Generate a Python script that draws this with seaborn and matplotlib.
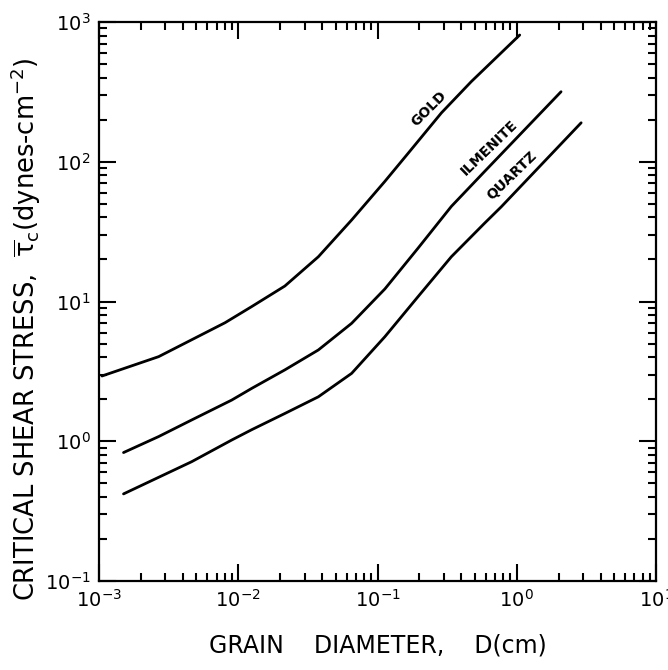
import numpy as np
import pandas as pd
import seaborn as sns
import matplotlib.pyplot as plt
import matplotlib.ticker as tkr

# grain diameter D (cm) and critical shear stress (dynes/cm^2)
gold_d = [0.00105, 0.00268, 0.00804, 0.0125, 0.0216, 0.0376, 0.0652, 0.113, 0.166, 0.288, 0.472, 1.05]
gold_tau = [2.93, 4.03, 7.05, 9.2, 12.9, 20.9, 38.3, 72.4, 115, 224, 375, 807]

ilmenite_d = [0.0015, 0.00268, 0.00463, 0.00897, 0.0125, 0.0216, 0.0376, 0.0652, 0.113, 0.195, 0.339, 0.587, 2.08]
ilmenite_tau = [0.83, 1.08, 1.42, 1.97, 2.39, 3.24, 4.50, 6.98, 12.3, 24.0, 47.9, 85.1, 317]

quartz_d = [0.0015, 0.00268, 0.00463, 0.00897, 0.0125, 0.0216, 0.0376, 0.0652, 0.113, 0.195, 0.339, 0.587, 0.774, 2.9]
quartz_tau = [0.42, 0.552, 0.714, 1.02, 1.21, 1.58, 2.08, 3.06, 5.60, 10.8, 20.9, 36.3, 47.6, 190]

# curve labels: text, anchor (D, tau) and angle
labels = ["GOLD", "ILMENITE", "QUARTZ"]
label_d = [0.232, 0.63, 0.915]
label_tau = [241, 125, 80]
label_rot = [45, 44, 44]

df = pd.concat(
    [
        pd.DataFrame({"D": gold_d, "tau": gold_tau, "mineral": "GOLD"}),
        pd.DataFrame({"D": ilmenite_d, "tau": ilmenite_tau, "mineral": "ILMENITE"}),
        pd.DataFrame({"D": quartz_d, "tau": quartz_tau, "mineral": "QUARTZ"}),
    ]
)

sns.set_style("ticks")
plt.rcParams["font.family"] = ["DejaVu Sans"]
plt.rcParams["mathtext.default"] = "regular"
plt.rcParams["text.color"] = "black"
plt.rcParams["axes.labelcolor"] = "black"

fig = plt.figure(figsize=(6.68, 6.70), dpi=100)
ax = fig.add_axes([99 / 668, 1 - 581 / 670, (656 - 99) / 668, (581 - 22) / 670])

sns.lineplot(
    data=df,
    x="D",
    y="tau",
    units="mineral",
    estimator=None,
    sort=False,
    color="black",
    linewidth=2.0,
    ax=ax,
)

ax.set_xscale("log")
ax.set_yscale("log")
ax.set_xlim(1e-3, 1e1)
ax.set_ylim(1e-1, 1e3)

ax.xaxis.set_major_locator(tkr.LogLocator(base=10, numticks=10))
ax.yaxis.set_major_locator(tkr.LogLocator(base=10, numticks=10))
ax.xaxis.set_minor_locator(tkr.LogLocator(base=10, subs=np.arange(2, 10), numticks=20))
ax.yaxis.set_minor_locator(tkr.LogLocator(base=10, subs=np.arange(2, 10), numticks=20))
ax.xaxis.set_minor_formatter(tkr.NullFormatter())
ax.yaxis.set_minor_formatter(tkr.NullFormatter())

ax.tick_params(which="both", direction="in", top=True, right=True, width=1.5,
               color="black", labelcolor="black")
ax.tick_params(which="major", length=12, labelsize=14, pad=6)
ax.tick_params(which="minor", length=6)
for sp in ax.spines.values():
    sp.set_linewidth(1.6)
    sp.set_color("black")

ax.set_xlabel("GRAIN    DIAMETER,    D(cm)", fontsize=17, labelpad=16)
ax.set_ylabel(r"CRITICAL SHEAR STRESS,  $\overline{\tau}_c$(dynes-cm$^{-2}$)", fontsize=18.5)
ax.yaxis.set_label_coords(-0.1, 0.45)

for t, d, v, r in zip(labels, label_d, label_tau, label_rot):
    ax.text(d, v, t, rotation=r, fontsize=10, fontweight="bold", ha="center", va="center",
            rotation_mode="anchor")

fig.savefig("out.png", dpi=100)
